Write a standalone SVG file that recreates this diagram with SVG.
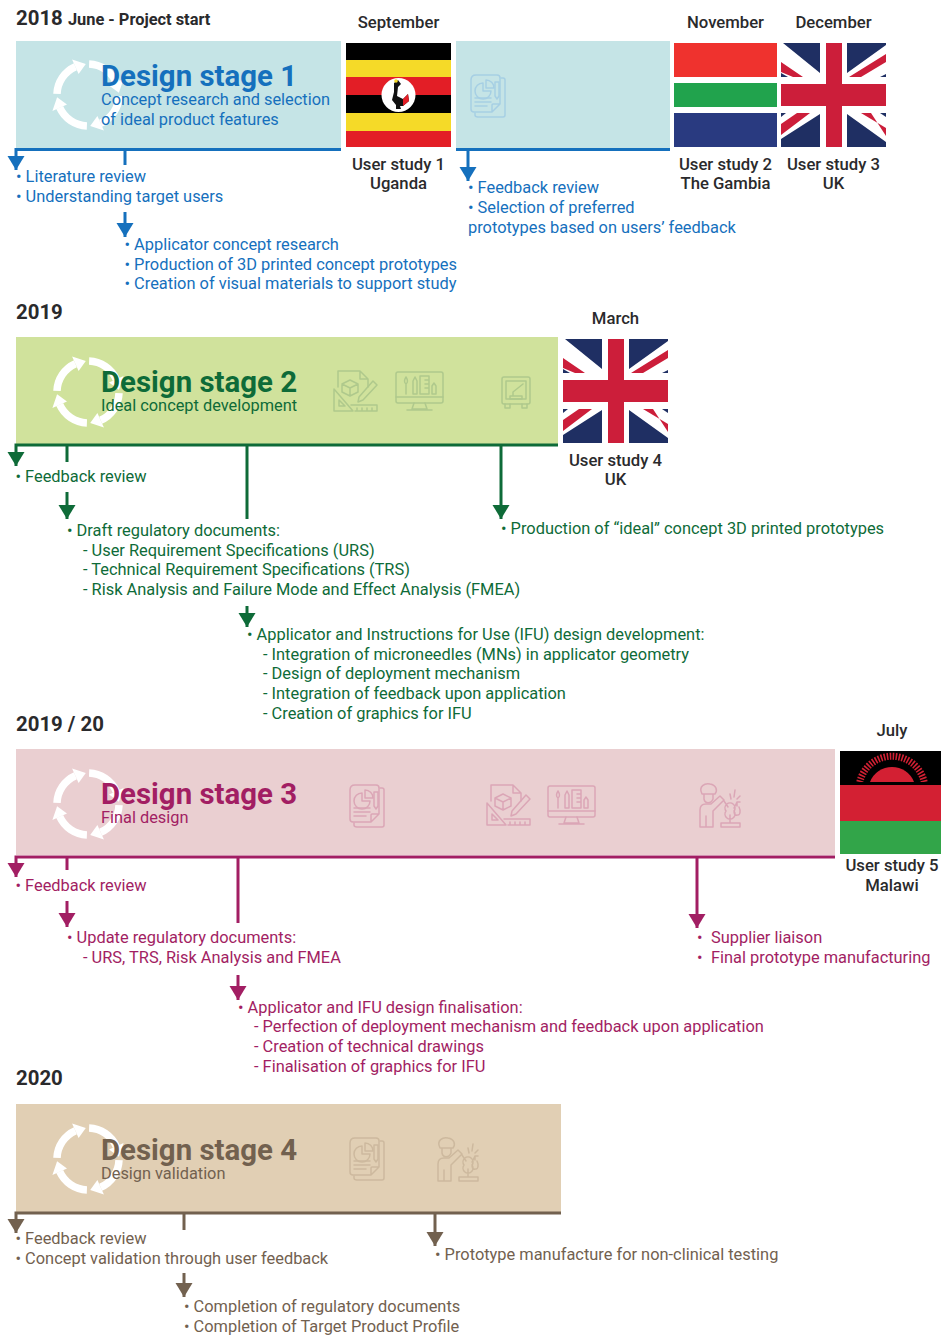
<svg xmlns="http://www.w3.org/2000/svg" xmlns:xlink="http://www.w3.org/1999/xlink" width="941" height="1335" viewBox="0 0 941 1335">
<style>
text{font-family:Roboto,"Liberation Sans",sans-serif}
.year{font-size:20.4px;font-weight:700;fill:#2a2a2c}
.sub{font-size:16.4px;font-weight:700;fill:#2a2a2c}
.lab{font-size:16.7px;font-weight:500;fill:#2a2a2c;text-anchor:middle}
.ttl{font-size:29.4px;font-weight:700}
.s{font-size:16.35px}
.b{font-size:16.4px}
.blue{fill:#1570bd}.green{fill:#0e6b38}.mag{fill:#a21e63}.brn{fill:#72614f}
.cn{fill:none;stroke-width:3}
.cb{stroke:#1570bd}.cg{stroke:#0e6b38}.cm{stroke:#a21e63}.cr{stroke:#72614f}
.ic{fill:none;stroke-width:1.5;stroke-linejoin:round;stroke-linecap:round}
.i1{stroke:#a6cfe4}.i2{stroke:#afc98c}.i3{stroke:#dba6b6}.i4{stroke:#cdb99e}
.ukb{fill:#1f2f63}.ukr{fill:#cc1e3a}
</style>
<defs>
<marker id="ab" markerUnits="userSpaceOnUse" markerWidth="15" markerHeight="18" refX="14" refY="8.500" orient="auto"><path d="M0 0L14 8.500L0 17Z" fill="#1570bd"/></marker>
<marker id="ag" markerUnits="userSpaceOnUse" markerWidth="15" markerHeight="18" refX="14" refY="8.500" orient="auto"><path d="M0 0L14 8.500L0 17Z" fill="#0e6b38"/></marker>
<marker id="am" markerUnits="userSpaceOnUse" markerWidth="15" markerHeight="18" refX="14" refY="8.500" orient="auto"><path d="M0 0L14 8.500L0 17Z" fill="#a21e63"/></marker>
<marker id="ar" markerUnits="userSpaceOnUse" markerWidth="15" markerHeight="18" refX="14" refY="8.500" orient="auto"><path d="M0 0L14 8.500L0 17Z" fill="#72614f"/></marker>
<clipPath id="sunclip"><rect x="840" y="751" width="101" height="31"/></clipPath>
<g id="arm"><path d="M-31 -1.100A31 31 0 0 1 -12.600 -28.300" fill="none" stroke="#fff" stroke-width="7.500"/><path d="M-9.400 -21L-15.900 -35.600L-2.200 -30.900Z" fill="#fff"/></g>
<g id="cycle"><use xlink:href="#arm"/><use xlink:href="#arm" transform="rotate(90)"/><use xlink:href="#arm" transform="rotate(180)"/><use xlink:href="#arm" transform="rotate(270)"/></g>
<g id="uk">
<rect width="105" height="104" fill="#fff"/>
<path class="ukb" d="M2 0H39V30ZM66 0H105V2L66 30ZM0 96L39 71V104H0ZM66 71L105 99V104H66ZM0 30V34H7ZM105 31V34H99ZM0 70H5L0 74ZM99 70H105V74Z"/>
<path class="ukr" d="M0 19L22 34H12L0 29ZM68 34L105 11V19L80 34ZM0 92L29 70H16L0 81ZM80 70L105 85V93L90 70Z"/>
<rect class="ukr" x="45" width="16" height="104"/><rect class="ukr" y="41" width="105" height="22"/>
</g>
<g id="doc"><path d="M6 1H27Q30 1 30 4V30L22 38H4Q1 38 1 35V6Q1 1 6 1ZM22 38V31Q22 30 23 30H30"/><path d="M31 4H33Q35 4 35 6V41Q35 43 33 43H8Q5 43 5 41V39"/><path d="M13 9V17H21A8 8 0 1 1 13 9ZM16 6A8 8 0 0 1 24 14H16Z"/><path d="M5 24H21M5 28H21M5 32H17"/><path d="M25 8V22L27 25L29 22V8Z"/></g>
<g id="tools"><path d="M5 2H27L35 10V18M5 2V18M27 2V10H35"/><path d="M17 11L25 15V23L17 27L9 23V15ZM17 19V27M9 15L17 19L25 15"/><path d="M1 42V20L20 42ZM6 37V31L12 37Z"/><path d="M26 28L40 12L44 16L30 31L25 33Z"/><path d="M18 36H44V42H22M24 39V42M29 39V42M34 39V42M39 39V42"/></g>
<g id="mon"><rect x="1" y="1" width="47" height="31" rx="2"/><path d="M1 26H48M19 32L17 38H32L30 32M12 39H37"/><path d="M11 23V13Q8 11 11 6Q14 11 11 13M18 23V10L20 6L22 10V23ZM25 23V5H34V23ZM37 23V15L39 12L41 15V23ZM30 9H34M30 13H34M30 17H34"/></g>
<g id="printer"><rect x="1" y="1" width="28" height="27" rx="2"/><rect x="5" y="5" width="20" height="18"/><path d="M4 28V32H9V28M21 28V32H26V28M9 20H21V23H9ZM12 20V16L22 8"/></g>
<g id="worker"><path d="M5 11C1 3 8 0 13 1C19 2 21 7 18 11ZM7 11V16C8 21 14 21 16 16V11"/><path d="M3 44V27Q3 21 9 21H14L23 13L27 17L16 28V44ZM9 44V33"/><path d="M24 44V40H43V44ZM33 40V32M29 28A5 5 0 1 0 37 28A5 5 0 1 0 29 28M27 18L31 24M37 25L40 19H43M40 19V23M38 26C36 30 38 33 40 32M42 24C44 28 43 32 41 32"/><path d="M33 11L34 16M38 7L37 14M43 13L40 16"/></g>
</defs>

<g id="header-2018"><text class="year" x="16" y="25">2018 <tspan class="sub">June - Project start</tspan></text></g>
<g id="stage-1"><rect x="16" y="41" width="325" height="107" fill="#c5e4e6"/><use xlink:href="#cycle" transform="translate(88,95)"/><text class="ttl blue" x="101" y="86">Design stage 1</text><text class="s blue" x="101" y="105">Concept research and selection</text><text class="s blue" x="101" y="125">of ideal product features</text></g>
<g id="stage-1b"><rect x="456" y="41" width="214" height="107" fill="#c5e4e6"/><use xlink:href="#doc" class="ic i1" transform="translate(470,74)"/></g>
<g id="study-1"><text class="lab" x="398.500" y="28">September</text>
<rect x="346" y="43" width="105" height="17" fill="#000"/><rect x="346" y="60" width="105" height="17" fill="#f5da28"/><rect x="346" y="77" width="105" height="18" fill="#e31e26"/><rect x="346" y="95" width="105" height="18" fill="#000"/><rect x="346" y="113" width="105" height="18" fill="#f5da28"/><rect x="346" y="131" width="105" height="16" fill="#e31e26"/>
<circle cx="398.500" cy="95" r="17" fill="#fff"/><path d="M394 83L398 80L401 84L398 87L397 96L403 99L408 94L409 101L403 106L400 106L401 109H396L396 105L392 100L394 92Z" fill="#111"/><path d="M403 99L408 94L409 101L403 106Z" fill="#e31e26"/><circle cx="396" cy="81" r="1.800" fill="#f5da28"/>
<text class="lab" x="398.500" y="170">User study 1</text><text class="lab" x="398.500" y="189">Uganda</text></g>
<g id="study-2"><text class="lab" x="725.500" y="28">November</text><rect x="674" y="43" width="103" height="34" fill="#ef322e"/><rect x="674" y="83" width="103" height="24" fill="#21a34d"/><rect x="674" y="113" width="103" height="34" fill="#293a80"/><text class="lab" x="725.500" y="170">User study 2</text><text class="lab" x="725.500" y="189">The Gambia</text></g>
<g id="study-3"><text class="lab" x="833.500" y="28">December</text><use xlink:href="#uk" transform="translate(781,43)"/><text class="lab" x="833.500" y="170">User study 3</text><text class="lab" x="833.500" y="189">UK</text></g>
<g id="notes-1">
<text class="b blue" x="16" y="182">• Literature review</text><text class="b blue" x="16" y="202">• Understanding target users</text>
<text class="b blue" x="124.500" y="250">• Applicator concept research</text><text class="b blue" x="124.500" y="270">• Production of 3D printed concept prototypes</text><text class="b blue" x="124.500" y="289">• Creation of visual materials to support study</text>
<text class="b blue" x="468" y="193">• Feedback review</text><text class="b blue" x="468" y="213">• Selection of preferred</text><text class="b blue" x="468" y="233">prototypes based on users’ feedback</text></g>

<g id="header-2019"><text class="year" x="16" y="319">2019</text></g>
<g id="stage-2"><rect x="16" y="337" width="542" height="107" fill="#d0e29c"/><use xlink:href="#cycle" transform="translate(88,392)"/><text class="ttl green" x="101" y="392">Design stage 2</text><text class="s green" x="101" y="411">Ideal concept development</text><use xlink:href="#tools" class="ic i2" transform="translate(333,369)"/><use xlink:href="#mon" class="ic i2" transform="translate(395,371)"/><use xlink:href="#printer" class="ic i2" transform="translate(501,376)"/></g>
<g id="study-4"><text class="lab" x="615.500" y="324">March</text><use xlink:href="#uk" transform="translate(563,339)"/><text class="lab" x="615.500" y="466">User study 4</text><text class="lab" x="615.500" y="485">UK</text></g>
<g id="notes-2">
<text class="b green" x="15.500" y="482">• Feedback review</text>
<text class="b green" x="67" y="536">• Draft regulatory documents:</text><text class="b green" x="83" y="556">- User Requirement Specifications (URS)</text><text class="b green" x="83" y="575">- Technical Requirement Specifications (TRS)</text><text class="b green" x="83" y="595">- Risk Analysis and Failure Mode and Effect Analysis (FMEA)</text>
<text class="b green" x="247" y="640">• Applicator and Instructions for Use (IFU) design development:</text><text class="b green" x="263" y="659.500">- Integration of microneedles (MNs) in applicator geometry</text><text class="b green" x="263" y="679">- Design of deployment mechanism</text><text class="b green" x="263" y="699">- Integration of feedback upon application</text><text class="b green" x="263" y="719">- Creation of graphics for IFU</text>
<text class="b green" x="501" y="534">• Production of “ideal” concept 3D printed prototypes</text></g>

<g id="header-2019-20"><text class="year" x="16" y="731">2019 / 20</text></g>
<g id="stage-3"><rect x="16" y="749" width="819" height="106" fill="#eacfd1"/><use xlink:href="#cycle" transform="translate(88,804)"/><text class="ttl mag" x="101" y="804">Design stage 3</text><text class="s mag" x="101" y="823">Final design</text><use xlink:href="#doc" class="ic i3" transform="translate(349,784)"/><use xlink:href="#tools" class="ic i3" transform="translate(486,783)"/><use xlink:href="#mon" class="ic i3" transform="translate(547,785)"/><use xlink:href="#worker" class="ic i3" transform="translate(697,783)"/></g>
<g id="study-5"><text class="lab" x="892" y="736">July</text><rect x="840" y="751" width="101" height="34" fill="#000"/><rect x="840" y="785" width="101" height="36" fill="#d32033"/><rect x="840" y="821" width="101" height="33" fill="#32a549"/>
<path d="M870 782A23.600 23.600 0 0 1 914 782Z" fill="#d32033"/><path d="M859.800 782A33 33 0 0 1 924.200 782" fill="none" stroke="#d32033" stroke-width="7" stroke-dasharray="1.600 1.400" clip-path="url(#sunclip)"/>
<text class="lab" x="892" y="871">User study 5</text><text class="lab" x="892" y="891">Malawi</text></g>
<g id="notes-3">
<text class="b mag" x="15.500" y="891">• Feedback review</text>
<text class="b mag" x="67" y="943">• Update regulatory documents:</text><text class="b mag" x="83" y="963">- URS, TRS, Risk Analysis and FMEA</text>
<text class="b mag" x="238" y="1013">• Applicator and IFU design finalisation:</text><text class="b mag" x="254" y="1032">- Perfection of deployment mechanism and feedback upon application</text><text class="b mag" x="254" y="1052">- Creation of technical drawings</text><text class="b mag" x="254" y="1072">- Finalisation of graphics for IFU</text>
<text class="b mag" x="697" y="943">• <tspan x="711">Supplier liaison</tspan></text><text class="b mag" x="697" y="963">• <tspan x="711">Final prototype manufacturing</tspan></text></g>

<g id="header-2020"><text class="year" x="16" y="1085">2020</text></g>
<g id="stage-4"><rect x="16" y="1104" width="545" height="108" fill="#e1cfb4"/><use xlink:href="#cycle" transform="translate(88,1159)"/><text class="ttl brn" x="101" y="1160">Design stage 4</text><text class="s brn" x="101" y="1179">Design validation</text><use xlink:href="#doc" class="ic i4" transform="translate(349,1137)"/><use xlink:href="#worker" class="ic i4" transform="translate(435,1137)"/></g>
<g id="notes-4">
<text class="b brn" x="15.500" y="1244">• Feedback review</text><text class="b brn" x="15.500" y="1264">• Concept validation through user feedback</text>
<text class="b brn" x="435" y="1260">• Prototype manufacture for non-clinical testing</text>
<text class="b brn" x="184" y="1312">• Completion of regulatory documents</text><text class="b brn" x="184" y="1332">• Completion of Target Product Profile</text></g>

<g id="connectors">
<path class="cn cb" d="M341 149.500H16V170" marker-end="url(#ab)"/><path class="cn cb" d="M125 150V165"/><path class="cn cb" d="M125 212V237" marker-end="url(#ab)"/><path class="cn cb" d="M456 149.500H670"/><path class="cn cb" d="M468 150V181" marker-end="url(#ab)"/>
<path class="cn cg" d="M558 445H16V466" marker-end="url(#ag)"/><path class="cn cg" d="M67 445V462M247 445V519"/><path class="cn cg" d="M67 492V519" marker-end="url(#ag)"/><path class="cn cg" d="M247 606V627" marker-end="url(#ag)"/><path class="cn cg" d="M501 445V519" marker-end="url(#ag)"/>
<path class="cn cm" d="M835 857H16V877" marker-end="url(#am)"/><path class="cn cm" d="M67 857V870M238 857V923"/><path class="cn cm" d="M67 901V927" marker-end="url(#am)"/><path class="cn cm" d="M238 975V1000" marker-end="url(#am)"/><path class="cn cm" d="M697 857V928" marker-end="url(#am)"/>
<path class="cn cr" d="M561 1213H16V1233" marker-end="url(#ar)"/><path class="cn cr" d="M184 1213V1230"/><path class="cn cr" d="M184 1273V1297" marker-end="url(#ar)"/><path class="cn cr" d="M435 1213V1246" marker-end="url(#ar)"/>
</g>
</svg>
